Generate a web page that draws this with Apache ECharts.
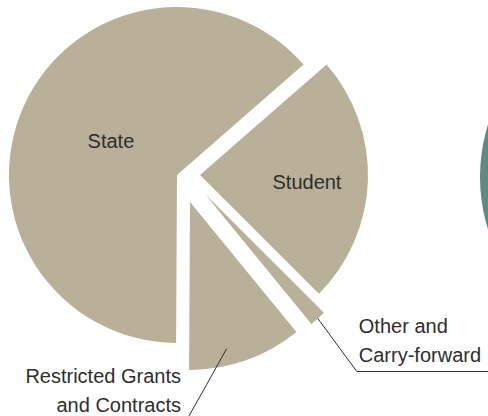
<!DOCTYPE html>
<html><head><meta charset="utf-8">
<script src="https://cdn.jsdelivr.net/npm/echarts@6/dist/echarts.min.js"></script>
<style>html,body{margin:0;padding:0;background:#fff}#c{width:488px;height:416px}</style>
</head><body><div id="c"></div>
<script>
// Revenue sources (share of total, %), clockwise from the Student slice
const categories = ['Student', 'Other and\nCarry-forward', 'Restricted Grants\nand Contracts', 'State'];
const shares = [23.9, 1.6, 11.0, 63.5];
// Neighbouring (cropped) pie at the right edge
const rightPieCategories = ['Neighbouring chart'];
const rightPieShares = [100];

const TAN = '#b8b098', TEAL = '#5f8a84', INK = '#2e2e2e';
const FONT = '"Liberation Sans", Arial, Helvetica, sans-serif';
const R = 168;
const START = 41.1; // echarts startAngle (deg, ccw from 3 o'clock)
// exploded position of each slice's apex
const centers = [[200, 175], [205, 194], [190, 202], [177, 175]];
const OUTSIDE = [1, 2]; // slices labelled outside with a leader line

const total = shares.reduce((a, b) => a + b, 0);
function midAngle(i) { // radians, screen coords (clockwise from 3 o'clock)
  let before = 0;
  for (let j = 0; j < i; j++) before += shares[j];
  const deg = -START + (before + shares[i] / 2) / total * 360;
  return deg * Math.PI / 180;
}
function polar(i, rr, dDeg) {
  const a = midAngle(i) + (dDeg || 0) * Math.PI / 180;
  return [centers[i][0] + rr * Math.cos(a), centers[i][1] + rr * Math.sin(a)];
}

const textStyle = { fontFamily: FONT, fontSize: 20, color: INK, lineHeight: 29 };

function layoutFor(k) {
  return function (p) {
    if (p.dataIndex !== k) return {};
    if (k === 3) return { dx: 13, dy: 2 };
    if (k === 0) return { dx: 20, dy: 4 };
    if (k === 1) {
      const a = polar(1, R);
      const b = [a[0] + 39, a[1] + 53];
      return { x: b[0] + 2, y: b[1] - 59.5, align: 'left', verticalAlign: 'top',
        labelLinePoints: [a, b, [b[0] + 200, b[1]]] };
    }
    if (k === 2) {
      const a = polar(2, R * 0.9, 5.5);
      const b = [a[0] - 20, a[1] + 36];
      return { x: 181, y: 361.5, align: 'right', verticalAlign: 'top',
        labelLinePoints: [a, b, [b[0] - 22, b[1] + 39]] };
    }
    return {};
  };
}

function makeSeries(k, drawSlice, drawLabel, z) {
  return {
    type: 'pie',
    radius: [0, R],
    center: centers[k],
    startAngle: START,
    clockwise: true,
    avoidLabelOverlap: false,
    silent: true,
    animation: false,
    z: z,
    data: categories.map((name, i) => ({
      name: name,
      value: shares[i],
      itemStyle: { color: (drawSlice && i === k) ? TAN : 'rgba(0,0,0,0)', borderWidth: 0 },
      label: Object.assign({
        show: drawLabel && i === k,
        position: OUTSIDE.includes(k) ? 'outside' : 'inside',
        formatter: '{b}'
      }, textStyle),
      labelLine: { show: drawLabel && i === k && OUTSIDE.includes(k), lineStyle: { color: INK, width: 1 } }
    })),
    labelLayout: layoutFor(k)
  };
}

const series = [];
categories.forEach((_, k) => series.push(makeSeries(k, true, !OUTSIDE.includes(k), 2)));
// leader lines and outside labels drawn above the slices
OUTSIDE.forEach(k => series.push(makeSeries(k, false, true, 3)));

series.push({
  type: 'pie',
  radius: [0, 176],
  center: [656, 177],
  silent: true,
  animation: false,
  z: 1,
  label: { show: false },
  labelLine: { show: false },
  data: rightPieCategories.map((name, i) => ({ name: name, value: rightPieShares[i], itemStyle: { color: TEAL } }))
});

const chart = echarts.init(document.getElementById('c'), null, { renderer: 'svg' });
chart.setOption({ backgroundColor: '#ffffff', animation: false, series: series });
</script>
</body></html>
